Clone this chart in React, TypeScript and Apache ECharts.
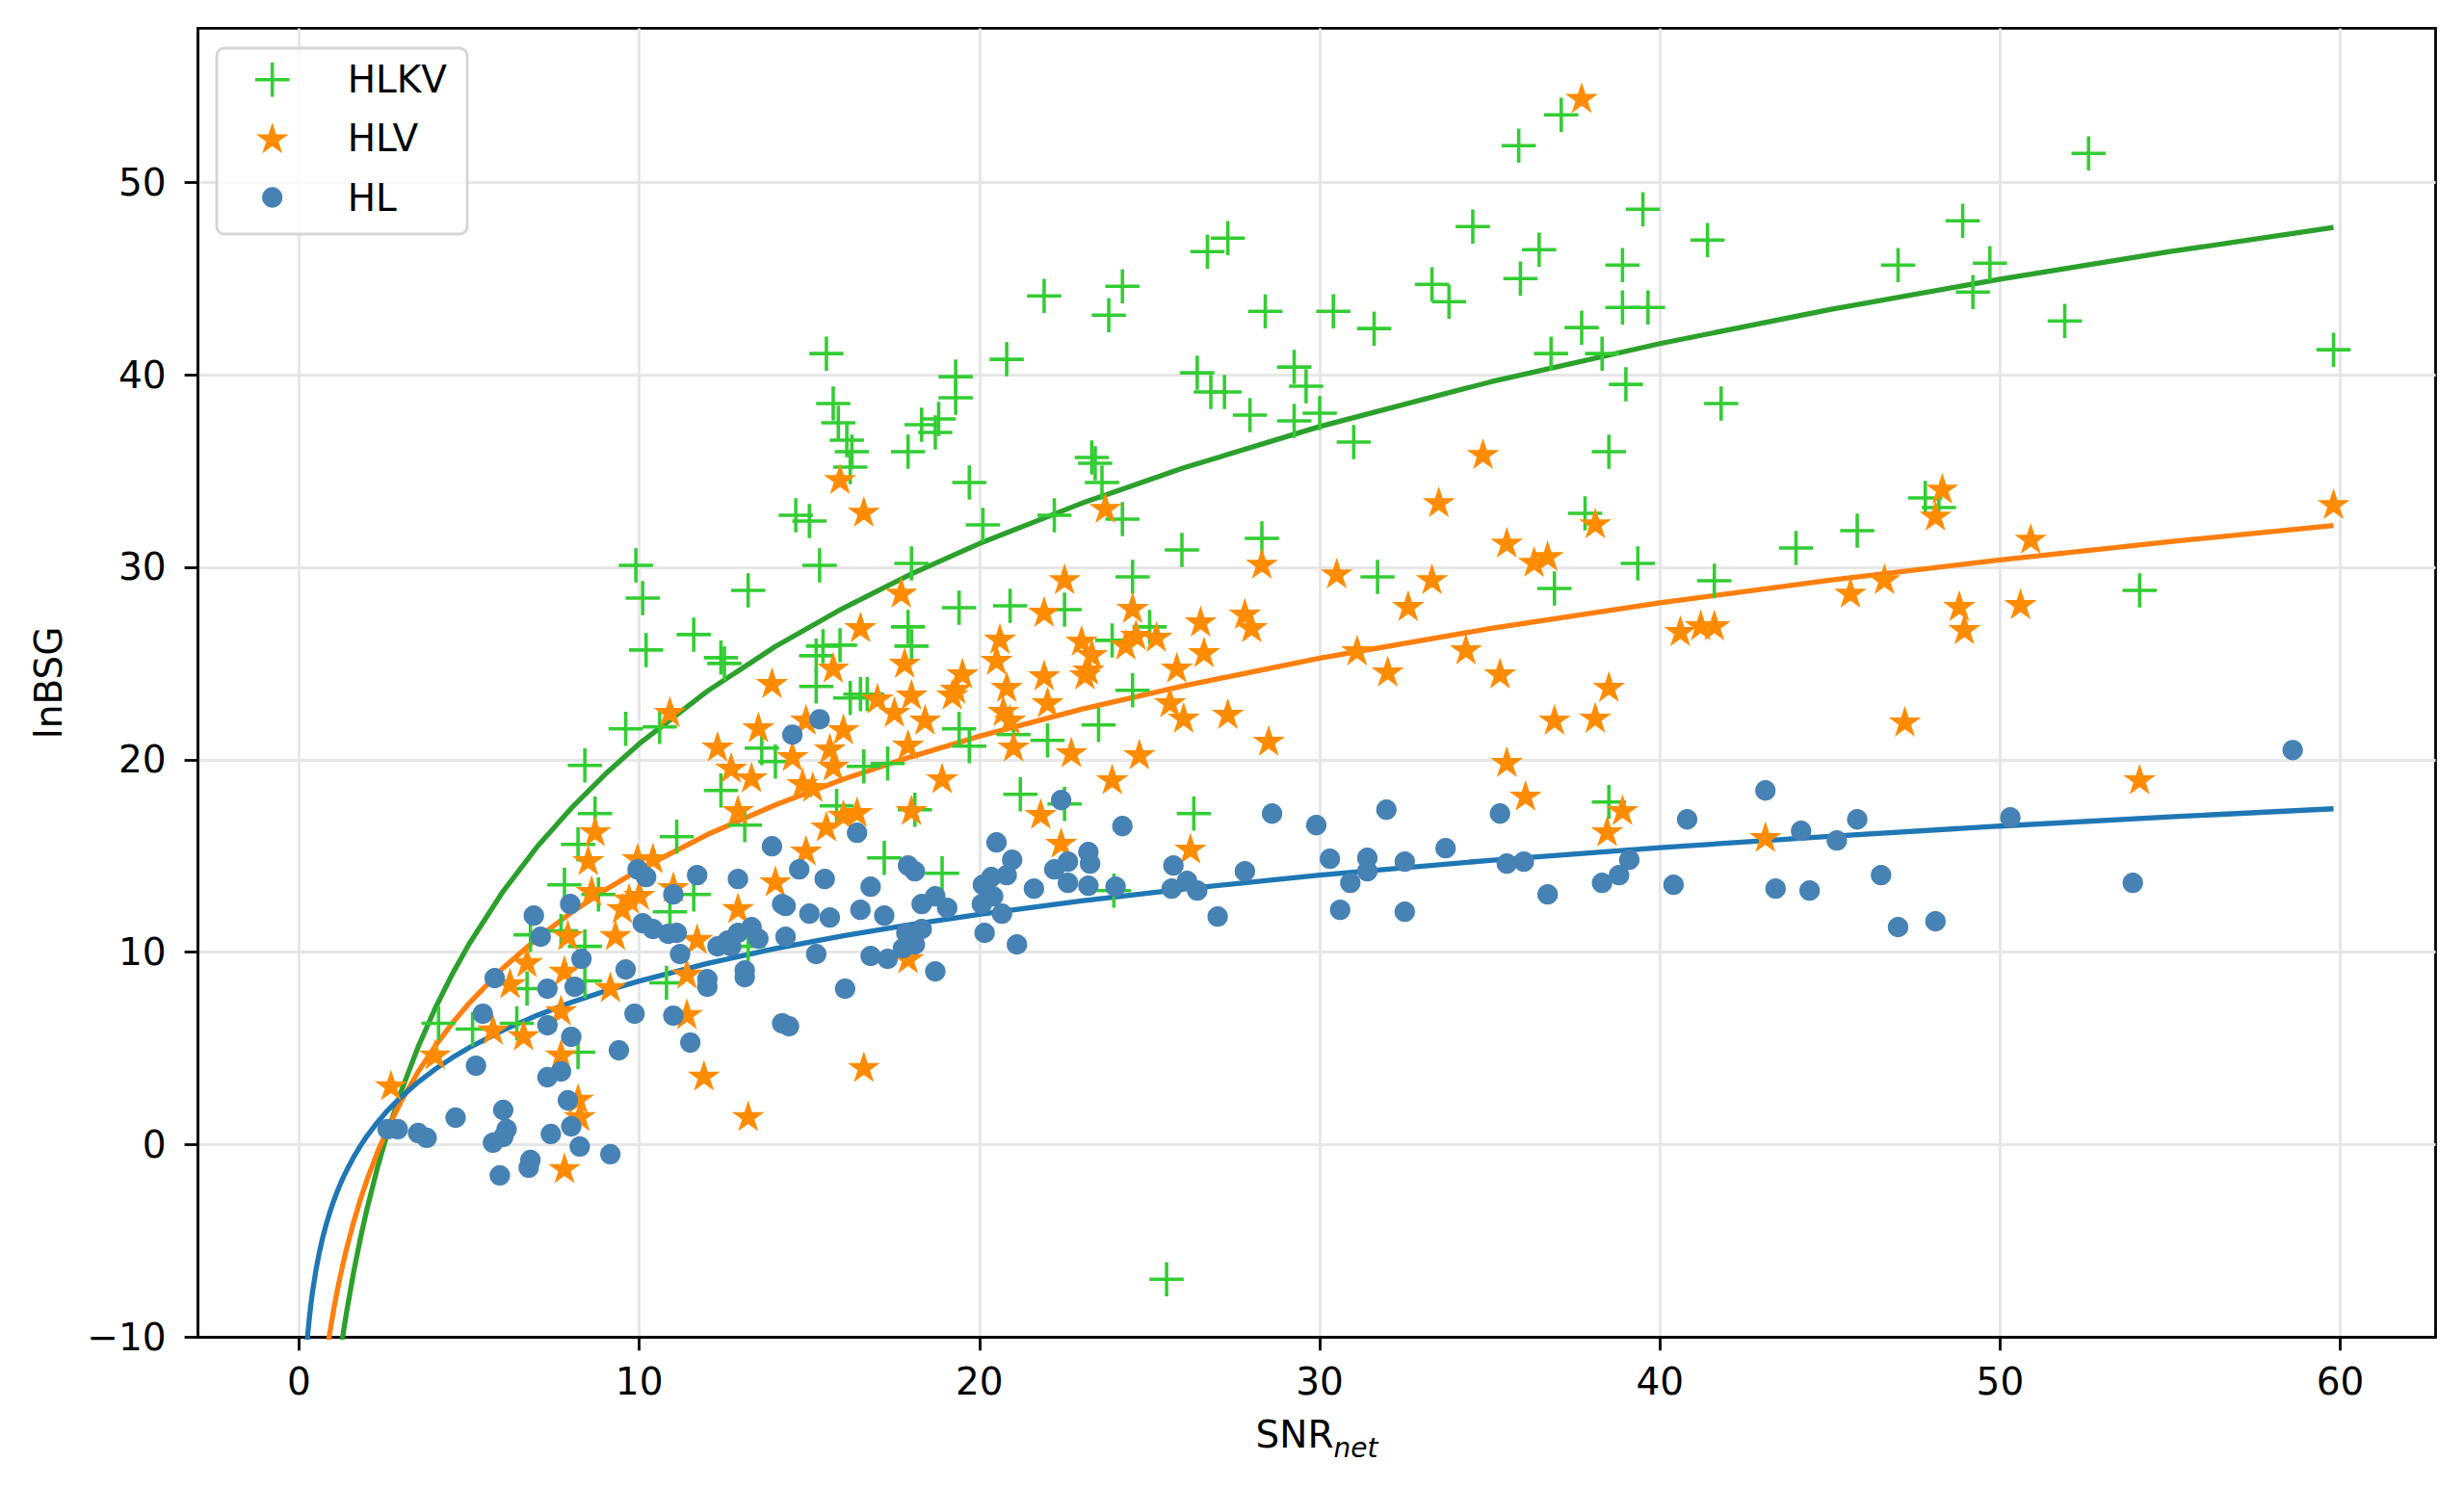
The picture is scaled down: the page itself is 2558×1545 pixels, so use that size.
import React, { useEffect, useRef } from 'react';
import * as echarts from 'echarts';

const FONT = 'DejaVu Sans';

const xTicks = [0, 10, 20, 30, 40, 50, 60];
const yTicks = [-10, 0, 10, 20, 30, 40, 50];

const fitX = [0.24, 0.3, 0.35, 0.4, 0.5, 0.6, 0.7, 0.8, 0.9, 1.0, 1.1, 1.2, 1.3, 1.4, 1.6, 1.8, 2.0, 2.3, 2.6, 3.0, 3.5, 4.0, 4.5, 5, 6, 7, 8, 9, 10, 12, 14, 16, 18, 20, 23, 26, 30, 35, 40, 45, 50, 55, 59.8];
const fitHLKV = [-35.12, -31.77, -29.46, -27.45, -24.11, -21.37, -19.06, -17.06, -15.29, -13.71, -12.28, -10.98, -9.77, -8.66, -6.66, -4.89, -3.31, -1.22, 0.62, 2.77, 5.08, 7.08, 8.85, 10.43, 13.17, 15.48, 17.48, 19.25, 20.83, 23.56, 25.88, 27.88, 29.65, 31.23, 33.32, 35.16, 37.31, 39.62, 41.62, 43.39, 44.97, 46.4, 47.66];
const fitHLV = [-23.01, -20.78, -19.24, -17.9, -15.67, -13.85, -12.31, -10.97, -9.79, -8.74, -7.79, -6.92, -6.12, -5.38, -4.04, -2.86, -1.81, -0.41, 0.82, 2.25, 3.79, 5.12, 6.3, 7.35, 9.18, 10.72, 12.05, 13.23, 14.29, 16.11, 17.65, 18.99, 20.16, 21.22, 22.62, 23.84, 25.27, 26.81, 28.15, 29.33, 30.38, 31.33, 32.17];
const fitHL = [-10.15, -9.03, -8.26, -7.59, -6.48, -5.56, -4.79, -4.13, -3.54, -3.01, -2.53, -2.1, -1.7, -1.33, -0.66, -0.07, 0.46, 1.15, 1.77, 2.48, 3.25, 3.92, 4.51, 5.04, 5.95, 6.72, 7.39, 7.98, 8.5, 9.41, 10.19, 10.85, 11.44, 11.97, 12.67, 13.28, 14.0, 14.77, 15.43, 16.02, 16.55, 17.03, 17.45];

const hlkvPoints: [number, number][] = [
  [9.9, 30.1], [10.1, 28.4], [10.2, 25.7], [11.6, 26.5], [12.5, 25.0], [12.4, 25.3], [13.2, 28.8], [9.6, 21.6], [10.6, 21.7], [13.6, 20.6],
  [4.1, 6.3], [5.1, 6.0], [6.4, 6.3], [6.7, 8.1], [6.8, 10.9], [7.8, 13.5], [8.2, 15.6], [8.7, 17.2], [8.4, 19.7], [7.7, 11.1], [8.4, 10.3], [8.4, 8.5], [8.8, 13.0], [8.2, 4.8], [10.8, 8.4], [10.9, 12.1], [11.1, 16.0], [11.6, 13.0], [12.4, 18.4], [13.1, 16.6], [13.2, 10.3], [14.0, 19.9],
  [26.7, 46.4], [27.3, 47.1], [21.9, 44.1], [24.2, 44.6], [23.8, 43.1], [15.5, 41.1], [19.3, 39.9], [19.3, 38.8], [20.8, 40.8], [26.4, 40.1], [26.8, 39.1], [27.2, 39.1], [27.95, 37.9], [15.7, 38.5], [15.85, 37.5], [16.1, 36.6], [16.25, 36.0], [16.2, 35.2], [18.3, 37.4], [18.8, 37.7], [18.7, 37.0], [17.9, 36.0], [19.7, 34.4], [23.3, 35.7], [23.4, 35.4], [23.6, 34.4], [14.6, 32.7], [15.0, 32.4], [20.1, 32.2], [22.2, 32.7], [24.2, 32.5], [15.3, 30.1], [18.0, 30.2], [25.95, 30.9], [28.3, 31.5], [24.5, 29.5], [19.4, 27.9], [20.9, 28.0], [22.5, 27.8], [17.9, 26.9], [18.0, 25.9], [15.4, 25.9], [15.9, 25.95], [15.2, 25.4], [15.2, 23.8], [16.2, 23.2], [16.5, 23.4], [16.7, 23.4], [24.5, 23.6], [23.5, 21.8], [22.0, 21.0], [19.4, 21.6], [19.7, 20.7], [21.0, 21.3], [25.0, 26.9], [23.9, 26.2], [28.4, 43.3],
  [16.6, 19.65], [17.3, 19.8], [15.8, 17.6], [18.1, 17.4], [17.2, 14.9], [18.9, 14.1], [21.2, 18.2], [22.5, 17.7], [26.3, 17.2], [23.95, 13.2],
  [35.85, 51.9], [37.1, 53.5], [34.5, 47.7], [39.5, 48.6], [41.4, 47.0], [36.45, 46.5], [35.9, 45.0], [38.9, 45.7], [33.3, 44.7], [33.8, 43.8], [38.9, 43.5], [39.65, 43.5], [30.4, 43.3], [31.6, 42.4], [37.7, 42.45], [36.8, 41.1], [38.3, 41.1], [29.25, 40.4], [29.6, 39.4], [39.0, 39.5], [41.8, 38.5], [29.25, 37.6], [30.0, 38.0], [31.0, 36.5], [38.5, 36.0], [37.8, 32.8], [31.7, 29.5], [39.35, 30.2], [36.9, 28.9], [41.6, 29.3], [44.0, 31.0], [45.8, 31.9],
  [38.5, 17.8],
  [52.6, 51.5], [48.9, 48.0], [47.0, 45.7], [49.7, 45.8], [49.2, 44.3], [51.9, 42.8], [59.8, 41.3], [47.8, 33.6], [48.2, 33.1], [54.1, 28.8],
  [25.5, -7.0],
];

const hlvPoints: [number, number][] = [
  [10.9, 22.5], [13.5, 21.7],
  [2.7, 3.1], [4.0, 4.7], [5.7, 6.0], [6.6, 5.7], [6.2, 8.4], [6.7, 9.5], [7.8, 9.05], [7.7, 7.0], [7.7, 4.7], [8.2, 2.4], [8.25, 1.5], [7.8, -1.2], [7.9, 10.9], [8.5, 14.8], [8.7, 16.3], [8.6, 13.2], [9.3, 10.9], [9.15, 8.2], [9.5, 12.3], [9.7, 12.8], [9.95, 14.9], [10.4, 14.9], [10.0, 13.0], [11.0, 13.4], [11.7, 10.7], [11.4, 8.9], [11.4, 6.8], [11.9, 3.6], [13.2, 1.5], [12.9, 12.3], [12.9, 17.4], [12.3, 20.7], [12.7, 19.6], [13.3, 19.1], [14.0, 13.7],
  [15.9, 34.6], [16.6, 32.9], [23.7, 33.1], [28.3, 30.2], [17.7, 28.7], [22.5, 29.4], [21.9, 27.7], [24.5, 27.9], [26.5, 27.2], [27.8, 27.6], [28.0, 26.9], [16.5, 26.9], [20.6, 26.3], [20.5, 25.2], [23.0, 26.2], [23.3, 25.5], [23.2, 24.7], [23.1, 24.45], [24.3, 26.0], [24.6, 26.5], [25.2, 26.4], [26.6, 25.6], [25.8, 24.8], [15.7, 24.8], [17.8, 25.05], [19.5, 24.5], [21.9, 24.4], [20.8, 23.8], [19.3, 23.7], [19.2, 23.4], [18.0, 23.4], [17.0, 23.2], [17.5, 22.5], [18.4, 22.1], [20.7, 22.55], [20.9, 22.1], [22.0, 23.0], [25.6, 23.0], [26.0, 22.2], [27.3, 22.4], [16.0, 21.6], [14.9, 22.1], [13.9, 24.0], [28.5, 21.0],
  [14.5, 20.2], [15.6, 20.6], [15.7, 19.7], [14.8, 18.8], [15.1, 18.6], [15.5, 16.55], [16.0, 17.15], [16.4, 17.3], [14.9, 15.3], [18.9, 19.05], [18.0, 17.4], [23.9, 19.0], [21.8, 17.2], [22.4, 15.7], [26.2, 15.4], [17.9, 9.7], [16.6, 4.05], [17.9, 20.8], [21.0, 20.7], [22.7, 20.4], [24.7, 20.3],
  [37.7, 54.4], [34.8, 35.9], [33.5, 33.4], [38.1, 32.3], [35.5, 31.3], [36.3, 30.3], [36.7, 30.6], [30.5, 29.7], [33.3, 29.4], [32.6, 28.0], [31.1, 25.7], [32.0, 24.6], [34.3, 25.75], [35.3, 24.5], [38.5, 23.8], [40.6, 26.7], [41.2, 27.0], [41.6, 27.0], [45.6, 28.7],
  [35.5, 19.9], [36.05, 18.15], [36.9, 22.1], [38.1, 22.2], [38.9, 17.4], [38.45, 16.3], [43.1, 16.0],
  [48.3, 34.1], [48.1, 32.7], [50.9, 31.5], [59.8, 33.3], [46.6, 29.4], [48.8, 28.0], [48.95, 26.8], [50.6, 28.1],
  [47.2, 22.0], [54.1, 19.0],
];

const hlPoints: [number, number][] = [
  [2.6, 0.8], [2.9, 0.8], [3.5, 0.6], [3.75, 0.35], [4.6, 1.4], [5.2, 4.1], [5.4, 6.8], [5.75, 8.65], [6.0, 1.8], [6.1, 0.8], [6.0, 0.4], [5.7, 0.1], [5.9, -1.6], [6.8, -0.8], [6.75, -1.2], [6.9, 11.9], [7.1, 10.8], [7.3, 8.1], [7.3, 6.2], [7.3, 3.5], [7.7, 3.8], [7.4, 0.55], [7.9, 2.3], [8.0, 5.6], [7.97, 12.5], [8.1, 8.2], [8.0, 0.95], [8.25, -0.1], [8.3, 9.65], [9.15, -0.5], [9.4, 4.9], [9.6, 9.1], [9.86, 6.8], [9.95, 14.3], [10.2, 13.9], [10.1, 11.5], [10.4, 11.2], [10.85, 10.95], [11.1, 11.0], [11.0, 13.0], [11.2, 9.9], [11.7, 14.0], [11.0, 6.7], [11.5, 5.3], [12.0, 8.6], [12.0, 8.2], [12.3, 10.3], [12.6, 10.6], [12.7, 10.3], [12.9, 11.0], [13.3, 11.3], [13.5, 10.7], [12.9, 13.8], [13.1, 9.05], [13.1, 8.7], [13.9, 15.5], [14.3, 10.8],
  [15.3, 22.1], [14.5, 21.3],
  [14.7, 14.3], [15.45, 13.8], [16.4, 16.2], [14.2, 12.5], [14.3, 12.4], [15.0, 12.0], [15.6, 11.8], [16.5, 12.2], [17.2, 11.9], [16.8, 13.4], [15.2, 9.9], [16.8, 9.8], [17.3, 9.65], [17.75, 10.2], [18.1, 10.4], [17.85, 11.0], [18.3, 11.2], [18.7, 9.0], [16.05, 8.1], [14.2, 6.3], [14.4, 6.15], [17.9, 14.5], [18.1, 14.2], [18.3, 12.5], [18.7, 12.9], [19.05, 12.3], [20.1, 13.5], [20.35, 13.9], [20.4, 12.9], [20.07, 12.5], [20.15, 11.0], [20.5, 15.7], [20.96, 14.8], [20.8, 14.0], [20.66, 12.0], [21.1, 10.4], [21.6, 13.3], [22.4, 17.9], [24.2, 16.55], [22.2, 14.3], [22.6, 14.7], [23.2, 15.2], [23.25, 14.6], [22.6, 13.6], [23.2, 13.45], [24.0, 13.4], [25.7, 14.5], [25.65, 13.3], [26.1, 13.7], [26.4, 13.2], [27.0, 11.85], [27.8, 14.2],
  [28.6, 17.2], [29.9, 16.6], [30.3, 14.85], [31.4, 14.9], [31.4, 14.2], [30.9, 13.6], [30.6, 12.2], [31.96, 17.4], [32.5, 14.7], [32.5, 12.1], [33.7, 15.4], [35.3, 17.2], [35.5, 14.6], [36.0, 14.7], [36.7, 13.0], [38.3, 13.6], [38.8, 14.0], [39.1, 14.8], [40.4, 13.5], [40.8, 16.9], [43.1, 18.4], [43.4, 13.3], [44.15, 16.3], [44.4, 13.2], [45.2, 15.8], [45.8, 16.9],
  [58.6, 20.5], [50.3, 17.0], [46.5, 14.0], [47.0, 11.3], [48.1, 11.6], [53.9, 13.6],
];

const PLUS = 'path://M45 0H55V45H100V55H55V100H45V55H0V45H45Z';
const STAR = 'path://M50 0L61.23 34.55L97.55 34.55L68.17 55.9L79.39 90.45L50 69.1L20.61 90.45L31.83 55.9L2.45 34.55L38.77 34.55Z';

const C_GREEN_PT = '#32cd32';
const C_ORANGE_PT = '#ff8c00';
const C_BLUE_PT = '#4682b4';

function App() {
  const ref = useRef<HTMLDivElement>(null);
  useEffect(() => {
    if (!ref.current) return;
    const chart = echarts.init(ref.current, null, { renderer: 'svg' });
    const lineSeries = (name: string, ys: number[], color: string) => ({
      type: 'line',
      name,
      data: fitX.map((x, i) => [x, ys[i]]),
      showSymbol: false,
      symbol: 'none',
      clip: true,
      silent: true,
      z: 2,
      lineStyle: { color, width: 5.3 },
      itemStyle: { color },
    });
    const legendRows = [82.7, 143.3, 205];
    const mkLegend = (name: string, s: number, row: number) => ({
      data: [name],
      orient: 'vertical',
      left: 282.7 - s / 2,
      top: row - 20,
      padding: 0,
      itemWidth: s,
      itemHeight: s,
      itemGap: 0,
      selectedMode: false,
      z: 10,
      textStyle: {
        fontSize: 39,
        fontFamily: FONT,
        color: '#000',
        lineHeight: 40,
        padding: [0, 0, 0, 73 - s / 2],
      },
    });
    const axisCommon = {
      axisLine: { show: true, onZero: false, lineStyle: { color: '#000', width: 2.8 } },
      splitLine: { show: true, lineStyle: { color: '#e6e6e6', width: 2.8 } },
    };
    chart.setOption({
      animation: false,
      backgroundColor: '#fff',
      grid: {
        left: 205.6,
        top: 29.4,
        width: 2322.9,
        height: 1358.9,
        show: true,
        borderColor: '#000',
        borderWidth: 2.8,
        backgroundColor: 'transparent',
        containLabel: false,
        outerBoundsMode: 'none',
      },
      legend: [
        mkLegend('HLKV', 35.5, legendRows[0]),
        mkLegend('HLV', 33.8, legendRows[1]),
        mkLegend('HL', 21.3, legendRows[2]),
      ],
      graphic: [
        {
          type: 'rect',
          z: 6,
          shape: { x: 225, y: 50, width: 260, height: 193, r: 8 },
          style: { fill: 'rgba(255,255,255,0.8)', stroke: '#d5d5d5', lineWidth: 2.8 },
          silent: true,
        },
      ],
      xAxis: {
        type: 'value',
        min: -2.97,
        max: 62.8,
        ...axisCommon,
        axisTick: { show: true, length: 14, customValues: xTicks, lineStyle: { color: '#000', width: 2.8 } },
        axisLabel: { customValues: xTicks, fontSize: 39, fontFamily: FONT, color: '#000', margin: 27 },
        name: '{a|SNR}{b|net}',
        nameLocation: 'middle',
        nameGap: 82,
        nameTextStyle: {
          fontFamily: FONT,
          color: '#000',
          rich: {
            a: { fontSize: 39, fontFamily: FONT, color: '#000', lineHeight: 47, verticalAlign: 'top' },
            b: { fontSize: 28, fontFamily: FONT, fontStyle: 'italic', color: '#000', lineHeight: 28, verticalAlign: 'bottom' },
          },
        },
      },
      yAxis: {
        type: 'value',
        min: -10,
        max: 58,
        ...axisCommon,
        axisTick: { show: true, length: 14, customValues: yTicks, lineStyle: { color: '#000', width: 2.8 } },
        axisLabel: {
          customValues: yTicks,
          fontSize: 39,
          fontFamily: FONT,
          color: '#000',
          margin: 33,
          formatter: (v: number) => (v < 0 ? '\u2212' + Math.abs(v) : String(v)),
        },
        name: 'lnBSG',
        nameLocation: 'middle',
        nameRotate: 90,
        nameGap: 136,
        nameTextStyle: { fontSize: 39, fontFamily: FONT, color: '#000' },
      },
      series: [
        lineSeries('HLKV fit', fitHLKV, '#2ca02c'),
        lineSeries('HLV fit', fitHLV, '#ff7f0e'),
        lineSeries('HL fit', fitHL, '#1f77b4'),
        {
          type: 'scatter',
          name: 'HLKV',
          data: hlkvPoints,
          symbol: PLUS,
          symbolSize: 35.5,
          z: 3,
          itemStyle: { color: C_GREEN_PT, opacity: 1 },
          emphasis: { disabled: true },
        },
        {
          type: 'scatter',
          name: 'HLV',
          data: hlvPoints,
          symbol: STAR,
          symbolSize: 33.8,
          symbolKeepAspect: true,
          z: 4,
          itemStyle: { color: C_ORANGE_PT, opacity: 1 },
          emphasis: { disabled: true },
        },
        {
          type: 'scatter',
          name: 'HL',
          data: hlPoints,
          symbol: 'circle',
          symbolSize: 21.3,
          z: 5,
          itemStyle: { color: C_BLUE_PT, opacity: 1 },
          emphasis: { disabled: true },
        },
      ],
    });
    return () => chart.dispose();
  }, []);
  return (
    <div
      ref={ref}
      style={{ position: 'absolute', left: 0, top: 0, width: '2558px', height: '1545px' }}
    />
  );
}

export default App;
